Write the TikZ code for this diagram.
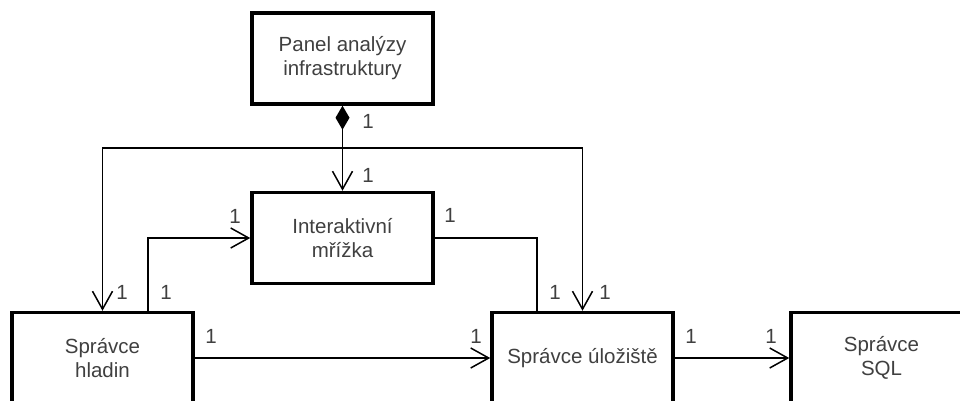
\documentclass[tikz,border=0pt]{standalone}
\usepackage{fontspec}
\setmainfont{Liberation Sans}
\usetikzlibrary{arrows.meta}
\definecolor{txt}{HTML}{404040}
\tikzset{
  box/.style={draw=black, line width=3.5pt, fill=white, minimum width=181pt, minimum height=91pt,
    inner sep=0pt, align=center, text=txt, font=\fontsize{20.5}{24}\selectfont},
  conn/.style={draw=black, line width=1.5pt},
  vtip/.style={-{Straight Barb[length=18pt,width=20pt]}},
  mult/.style={text=txt, font=\fontsize{20.5}{24}\selectfont, inner sep=0pt}
}
\begin{document}
\begin{tikzpicture}[x=1pt,y=-1pt]
\useasboundingbox (0,0) rectangle (960,400);
\clip (0,0) rectangle (960,400);
\node[box] (panel) at (342.5,58.5) {Panel analýzy\\infrastruktury};
\node[box] (grid) at (342.5,238) {Interaktivní\\mřížka};
\node[box] (hladin) at (102.5,358) {Správce\\hladin};
\node[box] (uloz) at (582.5,358) {Správce úložiště};
\node[box] (sql) at (881.5,358) {Správce\\SQL};
\coordinate (top) at (0,148);
\coordinate (hx) at (148,0);
\coordinate (ux) at (537,0);
% composition
\draw[conn, {Diamond[length=24pt,width=14pt]}-{Straight Barb[length=18pt,width=20pt]}] (panel.south) -- (grid.north);
% bidirectional over the top
\draw[conn, {Straight Barb[length=18pt,width=20pt]}-{Straight Barb[length=18pt,width=20pt]}]
  (hladin.north) -- (hladin.north |- top) -- (uloz.north |- top) -- (uloz.north);
% hladin -> grid
\draw[conn, vtip] (hladin.north -| hx) |- (grid.west);
% grid -- uloz
\draw[conn] (grid.east) -| (uloz.north -| ux);
% hladin -> uloz
\draw[conn, vtip] (hladin.east) -- (uloz.west);
% uloz -> sql
\draw[conn, vtip] (uloz.east) -- (sql.west);
% multiplicities
\node[mult] (m1) at (368,121) {1};
\node[mult] (m2) at (368,175) {1};
\node[mult] (m3) at (122,292) {1};
\node[mult] (m4) at (166,292) {1};
\node[mult] (m5) at (235,216) {1};
\node[mult] (m6) at (450,215) {1};
\node[mult] (m7) at (555,292) {1};
\node[mult] (m8) at (605,292) {1};
\node[mult] (m9) at (211,336) {1};
\node[mult] (m10) at (476,336) {1};
\node[mult] (m11) at (691,336) {1};
\node[mult] (m12) at (771,336) {1};
\end{tikzpicture}
\end{document}
